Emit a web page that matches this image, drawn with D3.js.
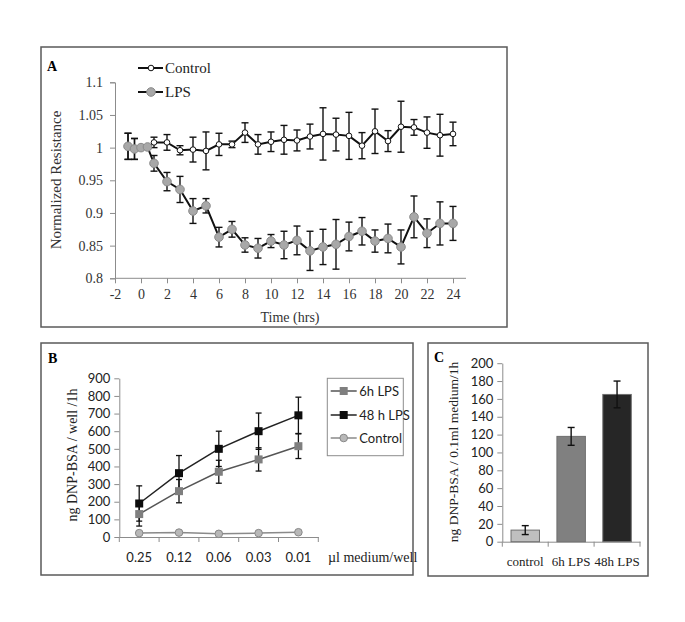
<!DOCTYPE html>
<html><head><meta charset="utf-8">
<script src="https://cdn.jsdelivr.net/npm/d3@7"></script>
<style>body{margin:0;background:#fff}svg{display:block}</style>
</head><body><svg id="c" width="685" height="622"></svg>
<script>
// ---- Panel A data ----
const timeHours = [-1,-0.5,0,0.5,1,2,3,4,5,6,7,8,9,10,11,12,13,14,15,16,17,18,19,20,21,22,23,24];
const controlRes = [1.002,0.998,1.0,1.0,1.008,1.008,0.996,0.997,0.995,1.005,1.005,1.023,1.005,1.009,1.012,1.011,1.017,1.021,1.020,1.018,1.003,1.025,1.010,1.032,1.031,1.023,1.019,1.021];
const controlErr = [0.02,0.016,0,0,0.008,0.012,0.007,0.019,0.029,0.017,0.005,0.015,0.015,0.015,0.022,0.016,0.019,0.040,0.025,0.036,0.020,0.034,0.016,0.039,0.012,0.024,0.032,0.018];
const lpsRes = [1.002,0.998,1.0,1.001,0.976,0.948,0.936,0.903,0.911,0.863,0.875,0.851,0.846,0.857,0.851,0.858,0.842,0.848,0.852,0.864,0.872,0.857,0.861,0.848,0.894,0.869,0.884,0.884];
const lpsErr = [0.02,0.016,0,0,0.012,0.014,0.02,0.019,0.011,0.015,0.012,0.011,0.015,0.01,0.021,0.022,0.03,0.027,0.038,0.022,0.021,0.017,0.022,0.026,0.032,0.022,0.033,0.026];
const aYTicks = [0.8,0.85,0.9,0.95,1,1.05,1.1];
const aXTicks = [-2,0,2,4,6,8,10,12,14,16,18,20,22,24];
const aSeries = ["Control","LPS"];
// ---- Panel B data ----
const dilutions = ["0.25","0.12","0.06","0.03","0.01"];
const lps6h = [130,260,370,440,515];
const lps6hErr = [68,66,65,66,70];
const lps48h = [190,362,500,600,690];
const lps48hErr = [100,100,100,103,103];
const controlB = [22,25,18,22,27];
const bSeries = ["6h LPS","48 h LPS","Control"];
const bYTicks = [0,100,200,300,400,500,600,700,800,900];
// ---- Panel C data ----
const groupsC = ["control","6h LPS","48h LPS"];
const valuesC = [13,118,165];
const errorsC = [5,10,15];
const cYTicks = [0,20,40,60,80,100,120,140,160,180,200];

const svg = d3.select("#c");
const serif = "'Liberation Serif','Times New Roman',serif";
const sans = "Lato,'Open Sans',sans-serif";
const axisCol = "#8c8c8c";

function frame(x,y,w,h){svg.append("rect").attr("x",x).attr("y",y).attr("width",w).attr("height",h).attr("fill","none").attr("stroke","#5a5a5a").attr("stroke-width",1.5);}
frame(41,47,466,280);
frame(41,343,372,232);
frame(428,343,220,233);

function styleAxis(g,font,size,col){
  g.selectAll("path,line").attr("stroke",axisCol).attr("stroke-width",1);
  g.selectAll("text").attr("font-family",font).attr("font-size",size).attr("fill",col||"#222");
}

// ===== Panel A =====
{
  const x = d3.scaleLinear().domain([-2,25]).range([115,466]);
  const y = d3.scaleLinear().domain([0.8,1.1]).range([278.3,82.3]);
  const gy = svg.append("g").attr("transform","translate(115,0)")
    .call(d3.axisLeft(y).tickValues(aYTicks).tickSize(5).tickPadding(7).tickFormat(d=>String(+d.toFixed(2))));
  styleAxis(gy,serif,14,"#333");
  const gx = svg.append("g").attr("transform","translate(0,278.3)")
    .call(d3.axisBottom(x).tickValues(aXTicks).tickSize(5).tickPadding(6).tickSizeOuter(0).tickFormat(d=>String(d)));
  styleAxis(gx,serif,14,"#333");
  gx.select("path").attr("d","M115,0H466");
  svg.append("text").attr("x",290).attr("y",322).attr("text-anchor","middle").attr("font-family",serif).attr("font-size",14).attr("fill","#333").text("Time (hrs)");
  svg.append("text").attr("transform","translate(61,180) rotate(-90)").attr("text-anchor","middle").attr("font-family",serif).attr("font-size",15).attr("fill","#333").text("Normalized Resistance");
  svg.append("text").attr("x",47).attr("y",71).attr("font-family",serif).attr("font-size",14).attr("font-weight","bold").text("A");

  const line = d3.line().x(d=>x(d[0])).y(d=>y(d[1]));
  function series(vals,errs,fill,stroke,r){
    const pts = timeHours.map((t,i)=>[t,vals[i],errs[i]]);
    const g = svg.append("g");
    pts.forEach(p=>{ if(p[2]>0){
      g.append("line").attr("x1",x(p[0])).attr("x2",x(p[0])).attr("y1",y(p[1]-p[2])).attr("y2",y(p[1]+p[2])).attr("stroke","#111").attr("stroke-width",1.4);
      [p[1]-p[2],p[1]+p[2]].forEach(v=>g.append("line").attr("x1",x(p[0])-3.5).attr("x2",x(p[0])+3.5).attr("y1",y(v)).attr("y2",y(v)).attr("stroke","#111").attr("stroke-width",1.4));
    }});
    g.append("path").datum(pts).attr("d",line).attr("fill","none").attr("stroke","#111").attr("stroke-width",2);
    g.selectAll("circle").data(pts).join("circle").attr("cx",d=>x(d[0])).attr("cy",d=>y(d[1])).attr("r",r).attr("fill",fill).attr("stroke",stroke).attr("stroke-width",1);
  }
  series(controlRes,controlErr,"#fff","#111",2.8);
  series(lpsRes,lpsErr,"#a8a8a8","#8a8a8a",4.3);
  // legend
  const ly = [68,92];
  aSeries.forEach((s,i)=>{
    svg.append("line").attr("x1",138).attr("x2",163).attr("y1",ly[i]).attr("y2",ly[i]).attr("stroke","#111").attr("stroke-width",2);
    if(i===0) svg.append("circle").attr("cx",151).attr("cy",ly[i]).attr("r",2.8).attr("fill","#fff").attr("stroke","#111");
    else svg.append("circle").attr("cx",151).attr("cy",ly[i]).attr("r",4.3).attr("fill","#a8a8a8").attr("stroke","#8a8a8a");
    svg.append("text").attr("x",165).attr("y",ly[i]+5).attr("font-family",serif).attr("font-size",15).attr("fill","#222").text(s);
  });
}

// ===== Panel B =====
{
  const x = d3.scaleBand().domain(dilutions).range([119.3,318.3]);
  const y = d3.scaleLinear().domain([0,900]).range([537,378.3]);
  const gy = svg.append("g").attr("transform","translate(119.3,0)")
    .call(d3.axisLeft(y).tickValues(bYTicks).tickSize(5).tickPadding(4).tickSizeOuter(0));
  styleAxis(gy,sans,13,"#222");
  const gx = svg.append("g").attr("transform","translate(0,537)")
    .call(d3.axisBottom(x).tickSize(0).tickPadding(16));
  styleAxis(gx,sans,13,"#222");
  gx.selectAll(".tick line").remove();
  [119.3].concat(dilutions.map(d=>x(d)+x.bandwidth())).forEach(v=>gx.append("line").attr("x1",v).attr("x2",v).attr("y1",0).attr("y2",5).attr("stroke",axisCol));
  svg.append("text").attr("x",328).attr("y",562).attr("font-family",serif).attr("font-size",14).attr("fill","#222").text("µl medium/well");
  svg.append("text").attr("transform","translate(77,455) rotate(-90)").attr("text-anchor","middle").attr("font-family",serif).attr("font-size",14).attr("fill","#222").text("ng DNP-BSA / well /1h");
  svg.append("text").attr("x",48).attr("y",363).attr("font-family",serif).attr("font-size",14).attr("font-weight","bold").text("B");

  const cx = d=>x(d)+x.bandwidth()/2;
  function errs(vals,e){
    dilutions.forEach((d,i)=>{
      svg.append("line").attr("x1",cx(d)).attr("x2",cx(d)).attr("y1",y(vals[i]-e[i])).attr("y2",y(vals[i]+e[i])).attr("stroke","#111").attr("stroke-width",1.3);
      [vals[i]-e[i],vals[i]+e[i]].forEach(v=>svg.append("line").attr("x1",cx(d)-3).attr("x2",cx(d)+3).attr("y1",y(v)).attr("y2",y(v)).attr("stroke","#111").attr("stroke-width",1.3));
    });
  }
  errs(lps48h,lps48hErr); errs(lps6h,lps6hErr);
  const line = d3.line().x((v,i)=>cx(dilutions[i])).y(v=>y(v));
  svg.append("path").datum(controlB).attr("d",line).attr("fill","none").attr("stroke","#8a8a8a").attr("stroke-width",1.5);
  svg.append("path").datum(lps6h).attr("d",line).attr("fill","none").attr("stroke","#555").attr("stroke-width",1.5);
  svg.append("path").datum(lps48h).attr("d",line).attr("fill","none").attr("stroke","#222").attr("stroke-width",1.5);
  svg.selectAll(".m6").data(lps6h).join("rect").attr("x",(v,i)=>cx(dilutions[i])-4).attr("y",v=>y(v)-4).attr("width",8).attr("height",8).attr("fill","#7f7f7f");
  svg.selectAll(".m48").data(lps48h).join("rect").attr("x",(v,i)=>cx(dilutions[i])-4).attr("y",v=>y(v)-4).attr("width",8).attr("height",8).attr("fill","#0d0d0d");
  svg.selectAll(".mc").data(controlB).join("circle").attr("cx",(v,i)=>cx(dilutions[i])).attr("cy",v=>y(v)).attr("r",3.8).attr("fill","#b8b8b8").attr("stroke","#888");
  // legend
  svg.append("rect").attr("x",327.3).attr("y",378.3).attr("width",76).attr("height",77.4).attr("fill","#fff").attr("stroke","#8c8c8c");
  const ly=[391,415,438];
  bSeries.forEach((s,i)=>{
    const col = i===0?"#555":i===1?"#222":"#8a8a8a";
    svg.append("line").attr("x1",330.7).attr("x2",356.7).attr("y1",ly[i]).attr("y2",ly[i]).attr("stroke",col).attr("stroke-width",1.5);
    if(i===0) svg.append("rect").attr("x",339.7).attr("y",ly[i]-4).attr("width",8).attr("height",8).attr("fill","#7f7f7f");
    else if(i===1) svg.append("rect").attr("x",339.7).attr("y",ly[i]-4).attr("width",8).attr("height",8).attr("fill","#0d0d0d");
    else svg.append("circle").attr("cx",343.7).attr("cy",ly[i]).attr("r",3.8).attr("fill","#b8b8b8").attr("stroke","#888");
    svg.append("text").attr("x",359.3).attr("y",ly[i]+4.5).attr("font-family",sans).attr("font-size",13).attr("fill","#222").text(s);
  });
}

// ===== Panel C =====
{
  const x = d3.scaleBand().domain(groupsC).range([502.3,640]).paddingInner(0.38).paddingOuter(0.19);
  const y = d3.scaleLinear().domain([0,200]).range([541.7,363.2]);
  const gy = svg.append("g").attr("transform","translate(502.3,0)")
    .call(d3.axisLeft(y).tickValues(cYTicks).tickSize(5).tickPadding(4).tickSizeOuter(0));
  styleAxis(gy,sans,13,"#222");
  const gx = svg.append("g").attr("transform","translate(0,541.7)")
    .call(d3.axisBottom(x).tickSize(0).tickPadding(15));
  styleAxis(gx,serif,13,"#222");
  gx.selectAll(".tick line").remove();
  d3.range(groupsC.length+1).forEach(i=>gx.append("line").attr("x1",502.3+i*(137.7/3)).attr("x2",502.3+i*(137.7/3)).attr("y1",0).attr("y2",5).attr("stroke",axisCol));
  svg.append("text").attr("transform","translate(458,452) rotate(-90)").attr("text-anchor","middle").attr("font-family",serif).attr("font-size",13.5).attr("fill","#222").text("ng DNP-BSA / 0.1ml medium/1h");
  svg.append("text").attr("x",434).attr("y",362).attr("font-family",serif).attr("font-size",14).attr("font-weight","bold").text("C");
  const fills = ["#bfbfbf","#808080","#262626"];
  svg.selectAll(".bar").data(valuesC).join("rect").attr("x",(v,i)=>x(groupsC[i])).attr("y",v=>y(v)).attr("width",x.bandwidth()).attr("height",v=>y(0)-y(v)).attr("fill",(v,i)=>fills[i]).attr("stroke","#6e6e6e").attr("stroke-width",1);
  valuesC.forEach((v,i)=>{
    const c = x(groupsC[i])+x.bandwidth()/2;
    svg.append("line").attr("x1",c).attr("x2",c).attr("y1",y(v-errorsC[i])).attr("y2",y(v+errorsC[i])).attr("stroke","#111").attr("stroke-width",1.4);
    [v-errorsC[i],v+errorsC[i]].forEach(e=>svg.append("line").attr("x1",c-3.5).attr("x2",c+3.5).attr("y1",y(e)).attr("y2",y(e)).attr("stroke","#111").attr("stroke-width",1.4));
  });
}
</script></body></html>
